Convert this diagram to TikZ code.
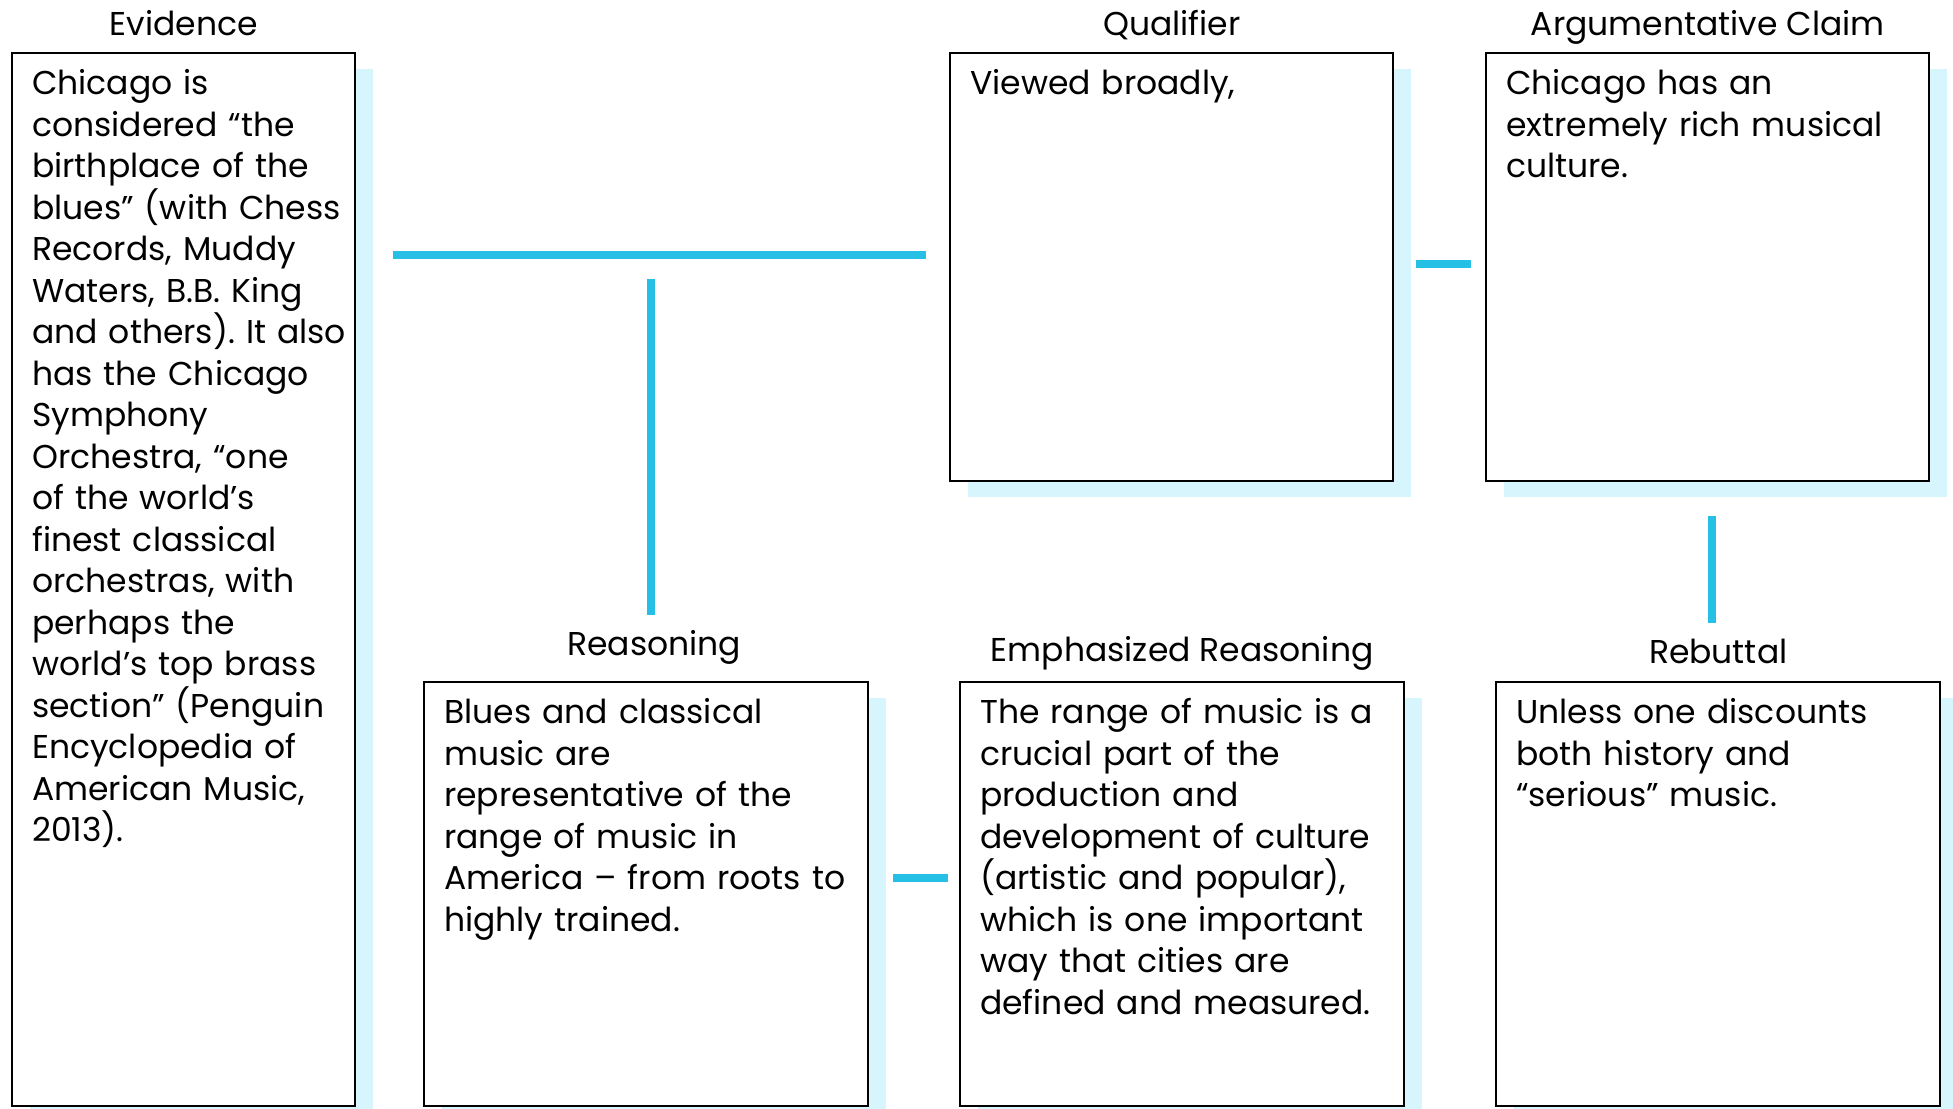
\documentclass[tikz,border=0pt]{standalone}
\usepackage{fontspec}
\setmainfont{Poppins}
\usetikzlibrary{positioning, shadows}
\definecolor{linkblue}{RGB}{38,191,229}
\definecolor{shadeblue}{RGB}{214,245,253}
\tikzstyle{panel} = [rectangle, draw, line width=1.2pt, fill=white, anchor=north west, align=left, inner xsep=10pt, inner ysep=0pt, text height=20.75pt, font=\fontsize{16.5}{20.75}\selectfont\frenchspacing, general shadow={fill=shadeblue, shadow xshift=9pt, shadow yshift=-8pt}]
\tikzstyle{tag}   = [font=\fontsize{16.5}{20}\selectfont, inner sep=0pt]
\tikzstyle{link}  = [draw=linkblue, line width=4pt]

\begin{document}
\begin{tikzpicture}[x=0.5pt, y=-0.5pt, node distance=8.5pt]
    \fill[white] (0,0) rectangle (1953,1108);
    \useasboundingbox (0,0) rectangle (1953,1108);
    % boxes
    \node[panel, text width=151.5pt, text depth=505.75pt](evid) at (11,52){Chicago is\\considered “the\\birthplace of the\\\mbox{blues” (with Chess}\\Records, Muddy\\Waters, B.B. King\\\mbox{and others). It also}\\has the Chicago\\Symphony\\Orchestra, “one\\of the world's\\finest classical\\orchestras, with\\perhaps the\\world's top brass\\section” (Penguin\\Encyclopedia of\\American Music,\\2013).};
    \node[panel, text width=201.5pt, text depth=193.25pt](qual) at (949,52){Viewed broadly,};
    \node[panel, text width=201.5pt, text depth=193.25pt](claim) at (1485,52){Chicago has an\\extremely rich musical\\culture.};
    \node[panel, text width=202pt, text depth=191.25pt](reas) at (423,681){Blues and classical\\music are\\representative of the\\range of music in\\America – from roots to\\highly trained.};
    \node[panel, text width=202pt, text depth=191.25pt](emph) at (959,681){The range of music is a\\crucial part of the\\production and\\development of culture\\(artistic and popular),\\which is one important\\way that cities are\\defined and measured.};
    \node[panel, text width=202pt, text depth=191.25pt](rebut) at (1495,681){Unless one discounts\\both history and\\“serious” music.};
    % headings
    \node[tag, above=of evid, anchor=base](evidlbl){Evidence};
    \node[tag, above=of qual, anchor=base](quallbl){Qualifier};
    \node[tag, above=of claim, anchor=base](claimlbl){Argumentative Claim};
    \node[tag, above=13pt of reas, xshift=4pt, anchor=base](reaslbl){Reasoning};
    \node[tag, above=10pt of emph, anchor=base](emphlbl){Emphasized Reasoning};
    \node[tag, above=9pt of rebut, anchor=base](rebutlbl){Rebuttal};
    % connectors
    \coordinate (tee) at (651,255);
    \path[link, shorten <=18.5pt, shorten >=11.5pt](evid.east |- tee) -- (qual.west |- tee);
    \path[link, shorten <=12pt, shorten >=33pt](tee) -- (tee |- reas.north);
    \path[link, shorten <=11pt, shorten >=7pt]([yshift=1.5pt]qual.east) -- ([yshift=1.5pt]claim.west);
    \path[link, shorten <=17pt, shorten >=29pt]([xshift=2pt]claim.south) -- ([xshift=2pt]claim.south |- rebut.north);
    \path[link, shorten <=12pt, shorten >=5.5pt]([yshift=8pt]reas.east) -- ([yshift=8pt]reas.east -| emph.west);
\end{tikzpicture}
\end{document}
